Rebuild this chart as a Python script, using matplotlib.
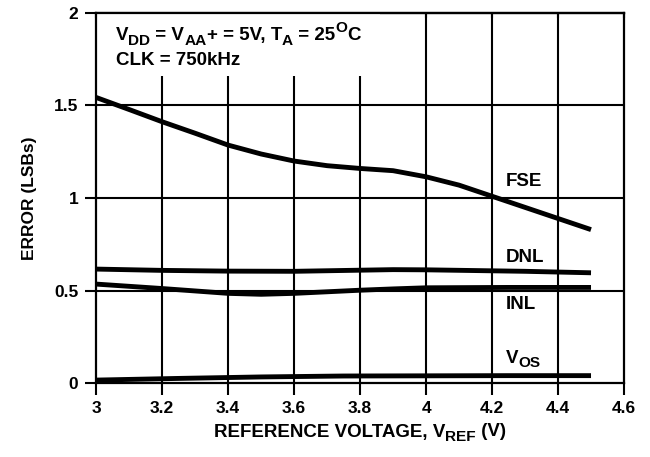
import numpy as np
import matplotlib
matplotlib.use("Agg")
import matplotlib.pyplot as plt
from matplotlib.patches import Rectangle
from matplotlib.transforms import offset_copy

plt.rcParams['font.family'] = ['Liberation Sans', 'DejaVu Sans']
plt.rcParams['font.weight'] = 'bold'

# values
fse_x = [3.0, 3.1, 3.2, 3.3, 3.4, 3.5, 3.6, 3.7, 3.8, 3.9, 4.0, 4.1, 4.2, 4.3, 4.4, 4.5]
fse_y = [1.543, 1.478, 1.412, 1.35, 1.286, 1.238, 1.2, 1.175, 1.16, 1.148, 1.115, 1.07, 1.01, 0.95, 0.89, 0.83]
dnl_x = [3.0, 3.2, 3.4, 3.6, 3.8, 3.9, 4.0, 4.3, 4.5]
dnl_y = [0.617, 0.61, 0.606, 0.605, 0.611, 0.614, 0.613, 0.605, 0.597]
inl_x = [3.0, 3.2, 3.4, 3.5, 3.6, 3.8, 3.9, 4.0, 4.25, 4.5]
inl_y = [0.536, 0.512, 0.486, 0.481, 0.486, 0.503, 0.51, 0.516, 0.518, 0.518]
vos_x = [3.0, 3.25, 3.5, 3.75, 4.0, 4.25, 4.5]
vos_y = [0.018, 0.027, 0.035, 0.04, 0.041, 0.042, 0.042]

xticks = [3.0, 3.2, 3.4, 3.6, 3.8, 4.0, 4.2, 4.4, 4.6]
xlabels = ['3', '3.2', '3.4', '3.6', '3.8', '4', '4.2', '4.4', '4.6']
yticks = [0, 0.5, 1, 1.5, 2]
ylabels = ['0', '0.5', '1', '1.5', '2']

FS = 12.5
FS_TXT = 13.5

fig = plt.figure(figsize=(6.5, 4.57), dpi=100)
ax = fig.add_axes([0.148, 0.161, 0.812, 0.811])
renderer = fig.canvas.get_renderer()


def rich_text(x, y, parts, transform, ha='left', fs=FS_TXT, zorder=5):
    # parts: (string, shift) with shift 0 normal, -1 subscript, 1 superscript
    em = fs * fig.dpi / 72.0
    pieces = []
    total = 0.0
    for s, shift in parts:
        size = fs if shift == 0 else fs * 0.82
        t = fig.text(0, 0, s, fontsize=size, fontweight='bold')
        w = t.get_window_extent(renderer).width
        t.remove()
        pieces.append((s, shift, size, w))
        total += w
    dx = -total / 2 if ha == 'center' else 0.0
    for s, shift, size, w in pieces:
        dy = {0: 0.0, -1: -0.24 * em, 1: 0.42 * em}[shift]
        tr = offset_copy(transform, fig=fig, x=dx, y=dy, units='dots')
        fig.text(x, y, s, fontsize=size, fontweight='bold', va='baseline',
                 ha='left', transform=tr, zorder=zorder)
        dx += w


for xs, ys in [(fse_x, fse_y), (dnl_x, dnl_y), (inl_x, inl_y), (vos_x, vos_y)]:
    ax.plot(xs, ys, color='black', lw=3.5, solid_capstyle='butt', zorder=3)

ax.set_xlim(3, 4.6)
ax.set_ylim(0, 2)
ax.set_xticks(xticks)
ax.set_xticklabels(xlabels)
ax.set_yticks(yticks)
ax.set_yticklabels(ylabels)

for v in xticks[1:-1]:
    ax.axvline(v, color='black', lw=1.5, zorder=1)
for v in yticks[1:-1]:
    ax.axhline(v, color='black', lw=1.5, zorder=1)

# white box behind the condition text hides the grid there
ax.add_patch(Rectangle((3.0, 1.66), 0.86, 0.34, facecolor='white', edgecolor='none', zorder=2))

for s in ax.spines.values():
    s.set_linewidth(1.6)
    s.set_zorder(4)

ax.tick_params(axis='x', direction='out', length=8.5, width=1.5, labelsize=FS, pad=4)
ax.tick_params(axis='y', direction='out', length=8, width=1.5, labelsize=FS, pad=5)

top = ax.secondary_xaxis('top')
top.set_xticks(xticks)
top.tick_params(axis='x', direction='in', length=3.5, width=1.5, labeltop=False)
top.spines['top'].set_linewidth(1.6)

ax.set_ylabel('ERROR (LSBs)', fontsize=FS, fontweight='bold', labelpad=12)

rich_text(0.5 * (0.148 + 0.96), 20.5 / 457,
          [('REFERENCE VOLTAGE, V', 0), ('REF', -1), (' (V)', 0)],
          fig.transFigure, ha='center')

rich_text(3.06, 1.853,
          [('V', 0), ('DD', -1), (' = V', 0), ('AA', -1), ('+ = 5V, T', 0),
           ('A', -1), (' = 25', 0), ('O', 1), ('C', 0)], ax.transData)
rich_text(3.06, 1.718, [('CLK = 750kHz', 0)], ax.transData)

rich_text(4.242, 1.066, [('FSE', 0)], ax.transData)
rich_text(4.242, 0.656, [('DNL', 0)], ax.transData)
rich_text(4.242, 0.399, [('INL', 0)], ax.transData)
rich_text(4.242, 0.111, [('V', 0), ('OS', -1)], ax.transData)

fig.savefig('out.png', dpi=100)
